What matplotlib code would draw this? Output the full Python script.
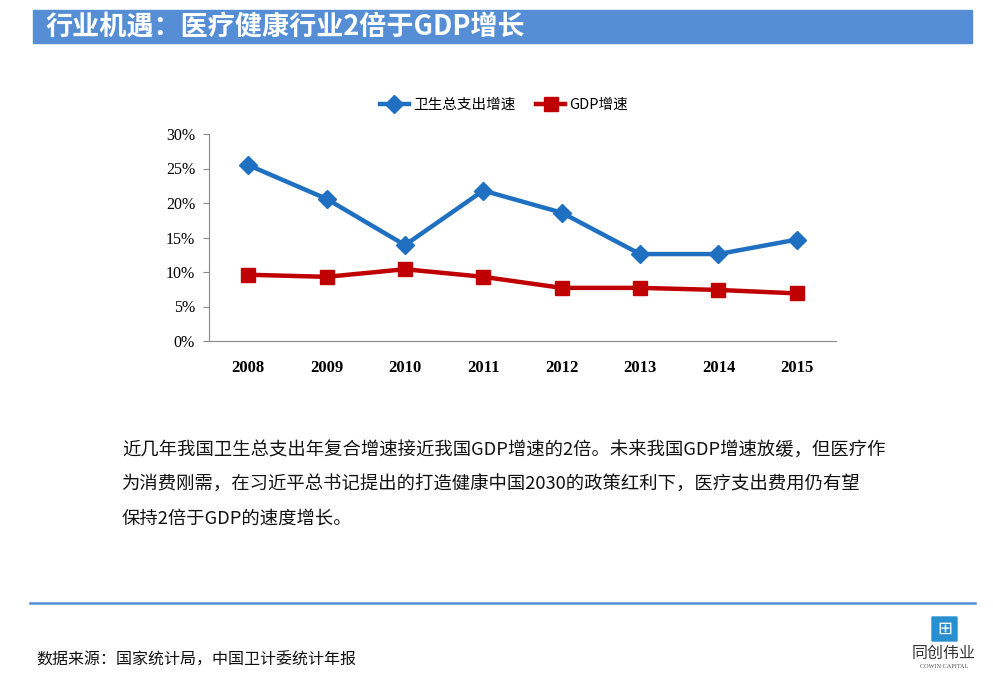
import matplotlib
matplotlib.use("Agg")
import matplotlib.pyplot as plt
from matplotlib.patches import Rectangle, FancyBboxPatch

plt.rcParams['font.family'] = ['Noto Sans CJK SC', 'DejaVu Sans']

# data
years = ['2008', '2009', '2010', '2011', '2012', '2013', '2014', '2015']
health_growth = [25.5, 20.6, 13.9, 21.8, 18.6, 12.6, 12.6, 14.7]   # 卫生总支出增速 %
gdp_growth = [9.6, 9.3, 10.4, 9.3, 7.7, 7.7, 7.4, 6.9]             # GDP增速 %
yticks = [0, 5, 10, 15, 20, 25, 30]

title = '行业机遇：医疗健康行业2倍于GDP增长'
body = ['近几年我国卫生总支出年复合增速接近我国GDP增速的2倍。未来我国GDP增速放缓，但医疗作',
        '为消费刚需，在习近平总书记提出的打造健康中国2030的政策红利下，医疗支出费用仍有望',
        '保持2倍于GDP的速度增长。']
source = '数据来源：国家统计局，中国卫计委统计年报'

W, H = 993, 673
fig = plt.figure(figsize=(W / 100, H / 100), dpi=100)

def fx(px):
    return px / W

def fy(py):
    return 1 - py / H

# title bar
fig.patches.append(Rectangle((fx(33), fy(43)), fx(972) - fx(33), fy(10) - fy(43),
                             transform=fig.transFigure, color='#558ED5', zorder=0))
fig.text(fx(46), fy(27), title, color='white', fontsize=19.5, fontweight='bold',
         va='center', ha='left')

# chart
ax = fig.add_axes([fx(209), fy(341), fx(836) - fx(209), fy(134) - fy(341)])
x = list(range(len(years)))
ax.plot(x, health_growth, color='#1F70C1', lw=3.2, marker='D', ms=9,
        label='卫生总支出增速')
ax.plot(x, gdp_growth, color='#C00000', lw=3.2, marker='s', ms=10,
        label='GDP增速')
ax.set_xlim(-0.5, len(years) - 0.5)
ax.set_ylim(0, 30)
ax.set_yticks(yticks)
ax.set_yticklabels([f'{v}%' for v in yticks], fontfamily='Liberation Serif', fontsize=11.5)
ax.set_xticks(x)
ax.set_xticklabels(years, fontfamily='Liberation Serif', fontsize=12, fontweight='bold')
for s in ['top', 'right']:
    ax.spines[s].set_visible(False)
for s in ['left', 'bottom']:
    ax.spines[s].set_color('#888888')
    ax.spines[s].set_linewidth(0.8)
ax.tick_params(axis='y', length=4, color='#888888', pad=6)
ax.tick_params(axis='x', length=0, pad=14)

leg = fig.legend(loc='center', bbox_to_anchor=(fx(504), fy(105)), ncol=2, frameon=False,
                 fontsize=10.5, handlelength=2.0, columnspacing=1.4, handletextpad=0.3)

# body text
for i, line in enumerate(body):
    fig.text(fx(122), fy(451 + 34 * i), line, fontsize=13.2, va='center', ha='left',
             color='#111111')

# separator line
fig.add_artist(plt.Line2D([fx(30), fx(975)], [fy(603), fy(603)], color='#558ED5', lw=1.8))

# source
fig.text(fx(36), fy(660), source, fontsize=11.5, va='center', ha='left', color='#111111')

# logo
fig.patches.append(FancyBboxPatch((fx(932), fy(641)), fx(25), fy(617) - fy(641),
                                  boxstyle='round,pad=0.0', transform=fig.transFigure,
                                  color='#2A8FD0'))
fig.text(fx(944.5), fy(629), '⊞', color='white', fontsize=13, ha='center', va='center',
         family=['DejaVu Sans'])
fig.text(fx(944), fy(653), '同创伟业', fontsize=11.5, ha='center', va='center', color='#333333')
fig.text(fx(944), fy(666), 'COWIN CAPITAL', fontsize=4.5, ha='center', va='center',
         color='#555555', family=['Liberation Serif'])

fig.savefig('out.png', dpi=100)
